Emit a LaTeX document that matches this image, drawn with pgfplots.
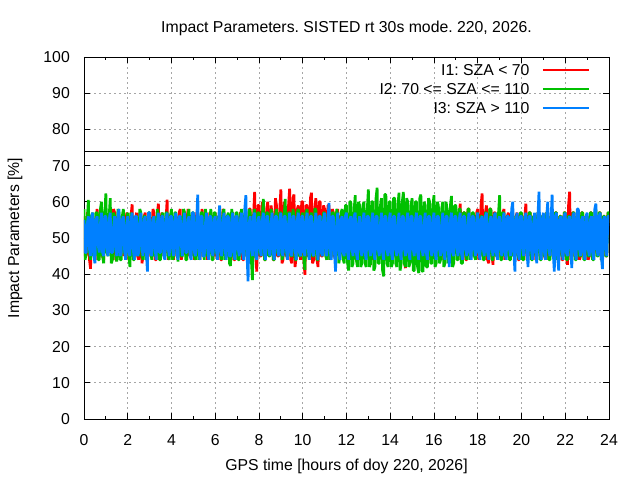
\documentclass[border=0pt]{standalone}
\usepackage{fontspec}
\setmainfont{Liberation Sans}
\usepackage{pgfplots}
\usepackage{pgfplotstable}
\pgfplotsset{compat=1.18}
\definecolor{rd}{RGB}{255,0,0}
\definecolor{gr}{RGB}{0,192,0}
\definecolor{bl}{RGB}{0,128,255}
\pgfplotstableread{
x r g b
0.00 56 58 55
0.05 45 44 46
0.10 45 46 46
0.15 57 55 54
0.20 57 60.5 56
0.25 44 46 47
0.30 41.5 44 45
0.35 56 56 56
0.40 56 57 57
0.45 46 45 45
0.50 44 45 43
0.55 55 57 55
0.60 58 57 56
0.65 44 44 48
0.70 45 44 46
0.75 57 58 54
0.80 55 60 57
0.85 45 45 46
0.90 44 43 45
0.95 56 57 56
1.00 57 62.3 56
1.05 46 46 47
1.10 46 45 45
1.15 55 56 55
1.20 56 61 57
1.25 45 43 46
1.30 45 44 46
1.35 58 57 53
1.40 57 56 56
1.45 44 45 47
1.50 44 43.5 45
1.55 56 58 56
1.60 56 57 58
1.65 46 44 45
1.70 45 44 46
1.75 55 56 55
1.80 57 58 56
1.85 45 46 47
1.90 46 45 44
1.95 57 55 54
2.00 56 57 56
2.05 44 45 46
2.10 45 42 45
2.15 56 57 55
2.20 59.3 56 57
2.25 46 44 47
2.30 46 44 44
2.35 55 56 56
2.40 57 56 56
2.45 45 46 45
2.50 44 45 46
2.55 57 58 54
2.60 56 57 57
2.65 43 45 47
2.70 45 44 45
2.75 56 56 55
2.80 57 56 56
2.85 46 44 46
2.90 46 45 40.7
2.95 55 57 57
3.00 56 57 57
3.05 45 46 46
3.10 45 44 45
3.15 58 55 55
3.20 57 56 56
3.25 44 45 47
3.30 44 45 44
3.35 56 58 54
3.40 59.5 56 57
3.45 46 44 46
3.50 45 44 46
3.55 57 56 56
3.60 56 57 56
3.65 45 46 45
3.70 46 45 44
3.75 55 57 55
3.80 60.6 57 57
3.85 44 45 47
3.90 45 44 45
3.95 56 56 56
4.00 57 58 56
4.05 46 44 47
4.10 44 45 45
4.15 56 57 55
4.20 56 57 57
4.25 45 46 46
4.30 45 43.5 44
4.35 57 55 56
4.40 58 56 56
4.45 44 45 48
4.50 46 45 45
4.55 55 58 54
4.60 57 57 57
4.65 46 44 46
4.70 44 44 46
4.75 58 56 55
4.80 56 58 56
4.85 45 46 45
4.90 45 45 44
4.95 56 57 57
5.00 56 57 57
5.05 44 45 46
5.10 45 44 45
5.15 57 56 55
5.20 57 56 62
5.25 46 44 47
5.30 44 45 44
5.35 55 57 56
5.40 58 57 56
5.45 45 46 45
5.50 45 44 45
5.55 56 58 54
5.60 56 56 57
5.65 44 45 47
5.70 46 45 44
5.75 57 55 56
5.80 57 58 56
5.85 46 44 46
5.90 44 44 45
5.95 55 57 55
6.00 57 57 56
6.05 45 46 47
6.10 45 45 44
6.15 56 56 55
6.20 56 56 59
6.25 44 45 46
6.30 44 44 45
6.35 58 57 54
6.40 57 58 57
6.45 46 44 47
6.50 46 45 44
6.55 55 56 56
6.60 56 57 56
6.65 45 43 45
6.70 45 42.3 45
6.75 57 58 55
6.80 57 56 57
6.85 44 45 46
6.90 44 44 44
6.95 56 57 56
7.00 56 57 56
7.05 46 44 47
7.10 45 44 45
7.15 57 56 55
7.20 57 58 57
7.25 44 46 46
7.30 44 45 44
7.35 55 57 58
7.40 56 56 61.8
7.45 45 45 46
7.50 45 44 38
7.55 58 58 54
7.60 58 57 56
7.65 46 44 47
7.70 44 38.4 45
7.75 56 56 56
7.80 62.7 58 57
7.85 45 45 45
7.90 40.7 44 44
7.95 59 57 55
8.00 59 57 56
8.05 45 46 47
8.10 45 45 45
8.15 60 56 55
8.20 58 60.8 57
8.25 44 44 46
8.30 44 44 44
8.35 58 57 56
8.40 60 57 56
8.45 46 45 47
8.50 46 45 45
8.55 59 58 54
8.60 57 56 57
8.65 44 44 46
8.70 44 44 44
8.75 61 56 56
8.80 59 58 56
8.85 45 46 47
8.90 45 45 45
8.95 58 57 55
9.00 63.4 57 57
9.05 43 44 46
9.10 44 45 45
9.15 60 56 56
9.20 58 60.8 56
9.25 45 46 47
9.30 45 44 44
9.35 59 57 54
9.40 63.6 57 57
9.45 44 45 46
9.50 43 45 45
9.55 61 58 56
9.60 62 56 56
9.65 42 44 47
9.70 45 44 44
9.75 58 57 55
9.80 59 58 57
9.85 46 45 46
9.90 44 45 45
9.95 60 56 56
10.00 60 57 56
10.05 44 44 46
10.10 39.8 41.2 45
10.15 59 57 55
10.20 59 58 57
10.25 45 46 47
10.30 45 44 44
10.35 61 56 56
10.40 62.5 57 56
10.45 43 45 46
10.50 44 45 45
10.55 58 58 54
10.60 61 58 57
10.65 44 44 47
10.70 42 44 44
10.75 60 56 56
10.80 60 56 56
10.85 45 46 46
10.90 45 45 45
10.95 59 57 55
11.00 58 57 57
11.05 46 45 46
11.10 44 44 45
11.15 59 56 55
11.20 59 58 59.7
11.25 44 44 47
11.30 45 45 44
11.35 58 57 56
11.40 57 57 56
11.45 45 46 46
11.50 44 44 40.7
11.55 57 58 54
11.60 58 56 57
11.65 46 43 47
11.70 46 45 44
11.75 56 57 55
11.80 57 58 56
11.85 44 44 46
11.90 45 43 45
11.95 57 59 56
12.00 56 59 57
12.05 45 43 46
12.10 45 41 44
12.15 57 60 55
12.20 57 60 56
12.25 44 42 47
12.30 44 43 45
12.35 56 58 56
12.40 56 61.8 57
12.45 46 44 46
12.50 45 42 44
12.55 55 60 54
12.60 57 59 56
12.65 45 42 47
12.70 46 43 45
12.75 57 59 55
12.80 56 60 57
12.85 44 43 46
12.90 45 42 44
12.95 56 58 56
13.00 57 63.4 56
13.05 45 42 47
13.10 42.6 43 45
13.15 56 60 55
13.20 59.7 60 57
13.25 44 41 46
13.30 45 42 44
13.35 57 61 56
13.40 56 63.9 56
13.45 46 43 47
13.50 44 43 45
13.55 55 59 54
13.60 57 61 57
13.65 45 41 46
13.70 45 39.4 44
13.75 56 62 56
13.80 56 62 56
13.85 44 43 47
13.90 44 42 45
13.95 57 60 55
14.00 57 60 57
14.05 46 42 46
14.10 45 43 44
14.15 56 61 56
14.20 56 61 56
14.25 45 43 47
14.30 44 42 45
14.35 57 59 54
14.40 57 62.5 57
14.45 44 41 46
14.50 45 43 44
14.55 56 60 56
14.60 56 62.7 56
14.65 43 43 47
14.70 41.7 42 45
14.75 57 61 55
14.80 57 60 57
14.85 45 42 46
14.90 45 43 44
14.95 56 59 56
15.00 56 61 56
15.05 45 41 47
15.10 44 41 45
15.15 57 60 55
15.20 57 60 57
15.25 44 42 46
15.30 45 40.3 44
15.35 56 61 56
15.40 56 62 56
15.45 46 41 47
15.50 44 40.7 45
15.55 55 60 54
15.60 57 59 57
15.65 45 42 46
15.70 45 42 44
15.75 57 61 56
15.80 56 60 56
15.85 44 43 47
15.90 44 43 45
15.95 56 59 55
16.00 57 61.8 57
16.05 45 42 46
16.10 45 43 44
16.15 56 60 56
16.20 56 59 56
16.25 46 43 47
16.30 44 44 45
16.35 57 58 54
16.40 57 60 57
16.45 44 42 46
16.50 45 43 44
16.55 56 60 56
16.60 56 58 56
16.65 45 43 47
16.70 44 44 42
16.75 57 59 55
16.80 57 61.6 57
16.85 45 42 46
16.90 45 43 45
16.95 56 59 56
17.00 57 59 56
17.05 46 44 47
17.10 44 44 45
17.15 56 58 55
17.20 59.5 58 57
17.25 45 43 46
17.30 45 43 44
17.35 57 57 56
17.40 57 57 56
17.45 44 45 47
17.50 44 44 45
17.55 58 58 54
17.60 58 58 57
17.65 45 44 46
17.70 45 45 44
17.75 56 57 56
17.80 57 57 56
17.85 46 45 47
17.90 44 44 45
17.95 57 56 55
18.00 58 57 57
18.05 44 46 46
18.10 45 45 44
18.15 59 56 55
18.20 62.3 56 56
18.25 45 44 47
18.30 44 44 45
18.35 57 57 56
18.40 59 57 57
18.45 44 45 46
18.50 43 45 44
18.55 58 58 54
18.60 58 58 56
18.65 45 44 47
18.70 42.6 44 45
18.75 57 56 56
18.80 57 57 57
18.85 46 45 46
18.90 45 45 44
18.95 56 57 55
19.00 57 61.8 56
19.05 45 44 47
19.10 44 44 45
19.15 57 57 55
19.20 58 57 57
19.25 44 45 46
19.30 45 45 44
19.35 56 56 56
19.40 57 56 56
19.45 46 44 47
19.50 44 44 45
19.55 57 57 58
19.60 56 57 60
19.65 45 45 46
19.70 45 45 40.7
19.75 56 56 55
19.80 57 56 57
19.85 44 45 46
19.90 44 44 44
19.95 57 57 56
20.00 56 57 56
20.05 46 44 47
20.10 45 44 45
20.15 56 56 55
20.20 59.5 56 57
20.25 44 46 46
20.30 44 45 42
20.35 57 57 56
20.40 57 57 56
20.45 45 44 47
20.50 45 44 44
20.55 56 56 54
20.60 56 56 57
20.65 44 45 46
20.70 44 45 43
20.75 57 57 56
20.80 57 57 62.8
20.85 46 44 47
20.90 45 44 44
20.95 56 56 55
21.00 56 56 57
21.05 45 45 46
21.10 44 45 44
21.15 57 57 56
21.20 57 57 60
21.25 44 44 47
21.30 45 44 45
21.35 56 56 55
21.40 56 56 62
21.45 46 45 46
21.50 44 45 40.7
21.55 57 57 56
21.60 57 57 57
21.65 45 44 45
21.70 45 44 41
21.75 56 56 55
21.80 56 56 56
21.85 44 45 47
21.90 44 45 44
21.95 57 57 56
22.00 57 57 57
22.05 45 44 46
22.10 42.6 44 45
22.15 59 56 55
22.20 62.8 56 56
22.25 44 45 47
22.30 45 45 41.7
22.35 57 57 56
22.40 57 57 57
22.45 45 44 46
22.50 44 44 44
22.55 56 56 58
22.60 56 56 58
22.65 44 45 47
22.70 45 45 45
22.75 57 57 55
22.80 57 57 56
22.85 45 44 46
22.90 44 44 44
22.95 56 56 56
23.00 56 56 57
23.05 44 45 47
23.10 45 45 45
23.15 57 57 55
23.20 57 57 56
23.25 45 44 46
23.30 44 44 44
23.35 56 57 58
23.40 56 58 59.5
23.45 46 45 47
23.50 45 45 45
23.55 57 57 56
23.60 57 57 57
23.65 44 44 45
23.70 44 44 41.4
23.75 56 56 55
23.80 56 56 56
23.85 45 45 47
23.90 45 45 45
23.95 57 57 56
24.00 56 57 56
}\data
\begin{document}
\frenchspacing
\fontsize{15.8bp}{18bp}\selectfont
\begin{tikzpicture}
\path[use as bounding box] (-84bp,-61bp) rectangle (556bp,419bp);
\begin{axis}[
  at={(0,0)}, anchor=south west,
  scale only axis, width=525bp, height=362bp,
  xmin=0, xmax=24, ymin=0, ymax=100,
  xtick={0,2,...,24}, minor x tick num=1,
  ytick={0,10,...,100},
  tick align=inside,
  major tick length=6bp, minor tick length=3bp,
  tick style={black, line width=0.8bp},
  axis line style={black, line width=0.8bp},
  grid=major,
  major grid style={gray!70, dash pattern=on 2bp off 3bp, line width=0.7bp},
  /pgf/number format/assume math mode=true,
  xticklabel style={anchor=base, yshift=-26bp, inner sep=0pt},
  yticklabel style={anchor=east, xshift=-14bp, inner sep=0pt},
  every axis title/.style={at={(axis description cs:0.5,1.0663)}, anchor=base},
  every axis x label/.style={at={(axis description cs:0.5,-0.1436)}, anchor=base},
  every axis y label/.style={at={(axis description cs:-0.1238,0.5)}, rotate=90, anchor=base},
  title={Impact Parameters. SISTED rt 30s mode. 220, 2026.},
  xlabel={GPS time [hours of doy 220, 2026]},
  ylabel={Impact Parameters [\%]},
  legend style={at={(axis description cs:0.9638,0.9807)}, anchor=north east,
    draw=none, fill=none, inner sep=0pt, row sep=8bp,
    nodes={inner sep=0pt, text height=11bp, text depth=0bp}},
  legend cell align=right,
  legend plot pos=right,
  legend image code/.code={\path (0bp,0bp); \draw[#1, line width=2bp] (12bp,0bp) -- (58bp,0bp);},
]
\addplot[black, line width=0.7bp, forget plot] coordinates {(0,74) (24,74)};
\addplot[rd, line width=2.7bp, line join=bevel, no markers] table[x=x, y=r]{\data};
\addlegendentry{I1: SZA < 70}
\addplot[gr, line width=2.7bp, line join=bevel, no markers] table[x=x, y=g]{\data};
\addlegendentry{I2: 70 <= SZA <= 110}
\addplot[bl, line width=2.7bp, line join=bevel, no markers] table[x=x, y=b]{\data};
\addlegendentry{I3: SZA > 110}
\end{axis}
\end{tikzpicture}
\end{document}
